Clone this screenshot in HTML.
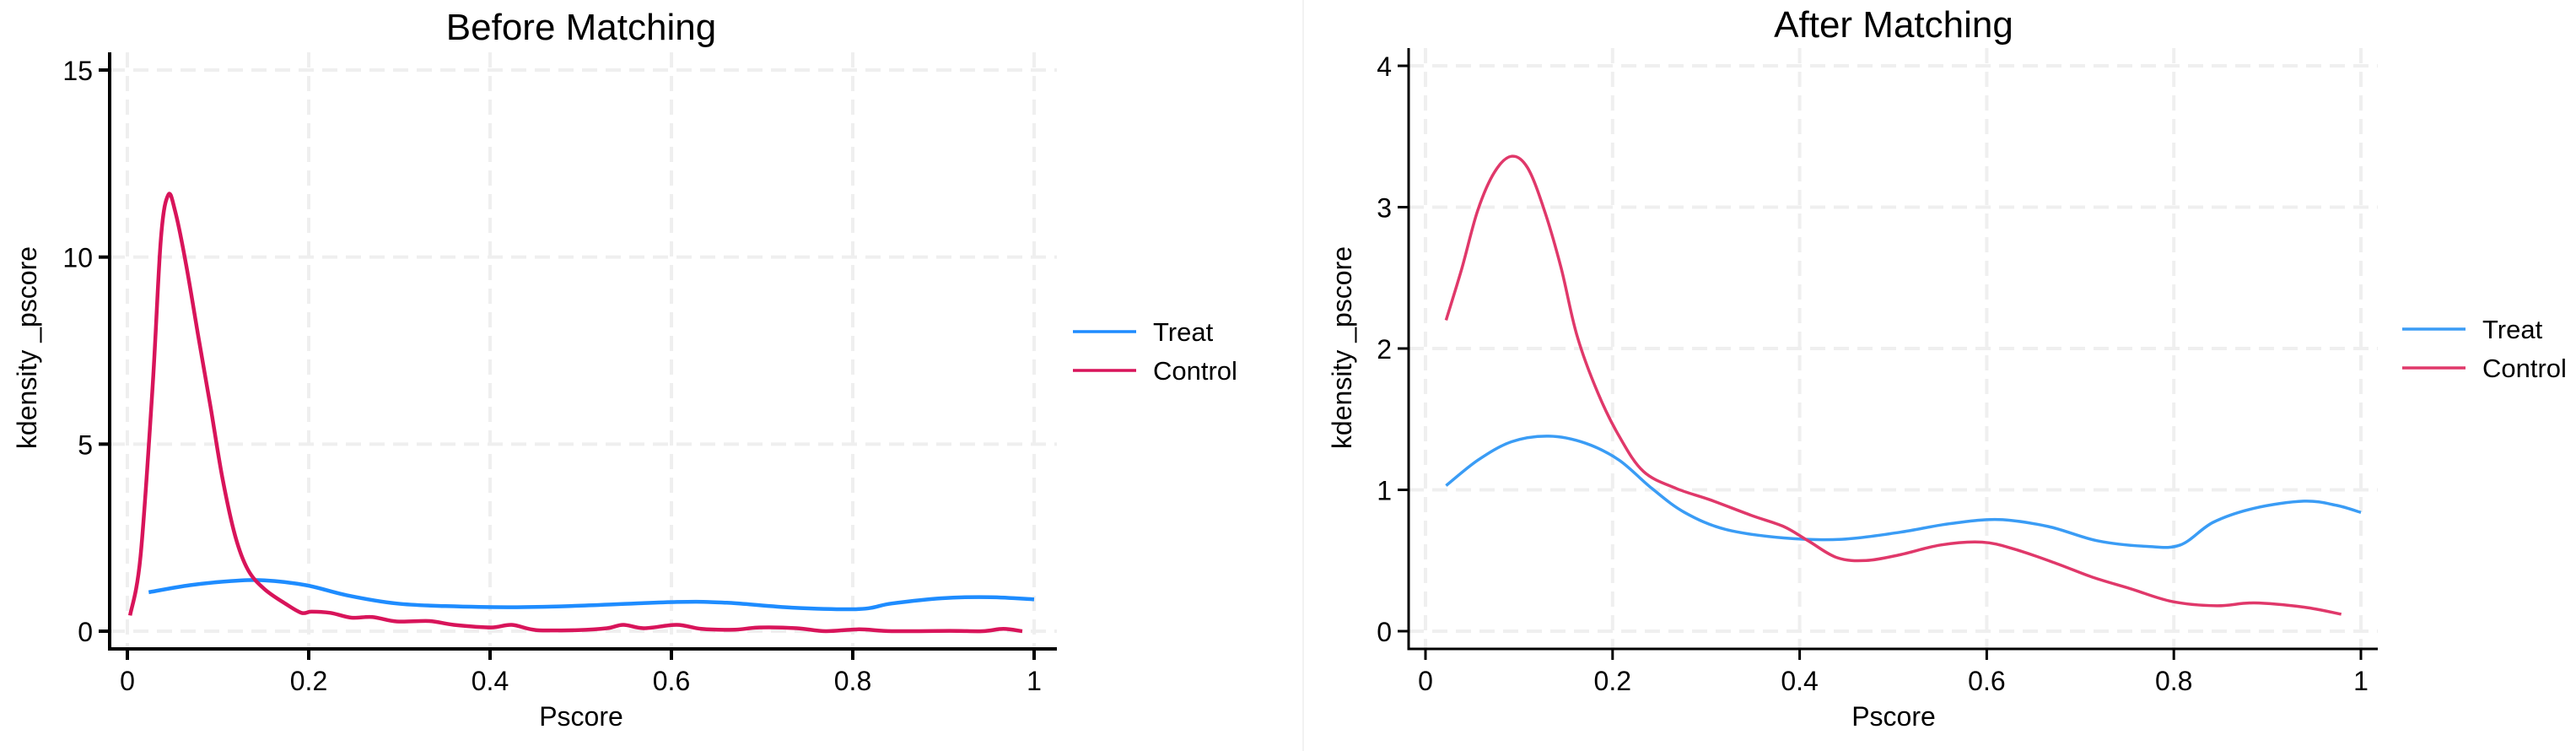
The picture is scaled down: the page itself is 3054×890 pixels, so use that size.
<!DOCTYPE html>
<html><head><meta charset="utf-8"><style>
html,body{margin:0;padding:0;background:#fff;}
svg{display:block;}
text{font-family:"Liberation Sans",Arial,sans-serif;fill:#000;}
</style></head><body>
<svg id="chart" width="3054" height="890" viewBox="0 0 3054 890" xmlns="http://www.w3.org/2000/svg">
<rect x="0" y="0" width="3054" height="890" fill="#fff"/>
<line x1="1545" y1="0" x2="1545" y2="890" stroke="#f2f2f2" stroke-width="2"/>
</svg>
<script>
// ---- data ----
const xTicks = [0, 0.2, 0.4, 0.6, 0.8, 1];
const xTickLabels = ["0", "0.2", "0.4", "0.6", "0.8", "1"];
const yTicksBefore = [0, 5, 10, 15];
const yTicksAfter = [0, 1, 2, 3, 4];
const beforeControlX = [0.003,0.0145,0.028,0.037,0.045,0.0525,0.0645,0.078,0.0917,0.105,0.119,0.133,0.151,0.174,0.192,0.203,0.224,0.247,0.27,0.297,0.333,0.36,0.401,0.424,0.451,0.497,0.529,0.547,0.57,0.606,0.633,0.67,0.697,0.738,0.77,0.807,0.843,0.907,0.943,0.966,0.987];
const beforeControlY = [0.42,2.0,6.6,10.5,11.66,11.25,9.84,7.92,6.0,4.07,2.54,1.64,1.13,0.74,0.49,0.52,0.49,0.36,0.38,0.26,0.27,0.17,0.10,0.17,0.03,0.03,0.08,0.17,0.08,0.17,0.06,0.04,0.10,0.08,0.0,0.05,0.0,0.01,0.0,0.06,0.0];
const beforeTreatX = [0.0235,0.069,0.114,0.151,0.197,0.242,0.297,0.351,0.424,0.497,0.606,0.661,0.733,0.807,0.843,0.898,0.952,1.0];
const beforeTreatY = [1.04,1.23,1.34,1.36,1.23,0.96,0.74,0.67,0.64,0.68,0.78,0.76,0.63,0.59,0.74,0.88,0.91,0.85];
const afterControlX = [0.022,0.039,0.056,0.074,0.092,0.109,0.127,0.145,0.162,0.184,0.207,0.233,0.268,0.304,0.348,0.383,0.409,0.44,0.471,0.507,0.551,0.595,0.63,0.674,0.714,0.754,0.798,0.846,0.886,0.939,0.979];
const afterControlY = [2.20,2.57,2.98,3.25,3.36,3.28,2.98,2.57,2.09,1.69,1.38,1.13,1.01,0.93,0.82,0.74,0.64,0.52,0.50,0.54,0.61,0.63,0.58,0.48,0.38,0.30,0.21,0.18,0.20,0.17,0.12];
const afterTreatX = [0.022,0.056,0.092,0.132,0.171,0.207,0.242,0.277,0.321,0.383,0.445,0.507,0.56,0.613,0.666,0.718,0.771,0.807,0.842,0.886,0.939,0.974,1.0];
const afterTreatY = [1.03,1.21,1.34,1.38,1.33,1.21,1.01,0.84,0.72,0.66,0.65,0.70,0.76,0.79,0.74,0.64,0.60,0.61,0.77,0.87,0.92,0.89,0.84];

const NS = "http://www.w3.org/2000/svg";
const svg = document.getElementById("chart");
function mk(tag, attrs, parent, txt){
  const e = document.createElementNS(NS, tag);
  for (const k in attrs) e.setAttribute(k, attrs[k]);
  if (txt !== undefined) e.textContent = txt;
  (parent || svg).appendChild(e);
  return e;
}
function smoothPath(pts){
  let d = "M" + pts[0][0].toFixed(1) + "," + pts[0][1].toFixed(1);
  for (let i = 0; i < pts.length - 1; i++){
    const p0 = pts[i-1] || pts[i], p1 = pts[i], p2 = pts[i+1], p3 = pts[i+2] || p2;
    const c1x = p1[0] + (p2[0]-p0[0])/6, c1y = p1[1] + (p2[1]-p0[1])/6;
    const c2x = p2[0] - (p3[0]-p1[0])/6, c2y = p2[1] - (p3[1]-p1[1])/6;
    d += " C" + c1x.toFixed(1)+","+c1y.toFixed(1)+" "+c2x.toFixed(1)+","+c2y.toFixed(1)+" "+p2[0].toFixed(1)+","+p2[1].toFixed(1);
  }
  return d;
}

function panel(cfg){
  const g = mk("g", {});
  
  
  const sx = v => cfg.x0 + v * (cfg.x1 - cfg.x0);
  const sy = v => cfg.y0 - v / cfg.ymax * (cfg.y0 - cfg.ytop);
  cfg.yTicks.forEach(t => {
    const l = mk("line", {x1: cfg.axisX, x2: cfg.axisRight, y1: sy(t), y2: sy(t), stroke: "#efefef", "stroke-width": 4, "stroke-dasharray": "18,10"}, g);
    
    
  });
  xTicks.forEach(t => {
    const l = mk("line", {x1: sx(t), x2: sx(t), y1: cfg.axisTop, y2: cfg.axisY, stroke: "#efefef", "stroke-width": 4, "stroke-dasharray": "18,10"}, g);
    
    
  });
  const ya = mk("line", {x1: cfg.axisX, x2: cfg.axisX, y1: cfg.axisTop, y2: cfg.axisY, stroke: "#000", "stroke-width": cfg.axW}, g);
  
  
  const xa = mk("line", {x1: cfg.axisX - cfg.axW/2, x2: cfg.axisRight, y1: cfg.axisY, y2: cfg.axisY, stroke: "#000", "stroke-width": cfg.axW}, g);
  
  
  cfg.yTicks.forEach(t => {
    const tk = mk("line", {x1: cfg.axisX - 13, x2: cfg.axisX, y1: sy(t), y2: sy(t), stroke: "#000", "stroke-width": cfg.axW}, g);
    
    
    const tl = mk("text", {x: cfg.axisX - 20, y: sy(t) + 12, "font-size": 32, "text-anchor": "end"}, g, String(t));
    
    
  });
  xTicks.forEach((t, i) => {
    const tk = mk("line", {x1: sx(t), x2: sx(t), y1: cfg.axisY, y2: cfg.axisY + 13, stroke: "#000", "stroke-width": cfg.axW}, g);
    
    
    const tl = mk("text", {x: sx(t), y: cfg.axisY + 49, "font-size": 32, "text-anchor": "middle"}, g, xTickLabels[i]);
    
    
  });
  cfg.series.forEach(s => {
    const pts = s.xs.map((v, i) => [sx(v), sy(s.ys[i])]);
    const p = mk("path", {d: smoothPath(pts), fill: "none", stroke: s.color, "stroke-width": cfg.lw, "stroke-linejoin": "round"}, g);
    
    
  });
  const tt = mk("text", {x: cfg.titleX, y: cfg.titleY, "font-size": 44, "text-anchor": "middle"}, g, cfg.title);
  
  
  const xt = mk("text", {x: cfg.titleX, y: 860, "font-size": 32, "text-anchor": "middle"}, g, "Pscore");
  
  
  const yt = mk("text", {x: 0, y: 0, "font-size": 32, "text-anchor": "middle", transform: "translate(" + cfg.yTitleX + ",412) rotate(-90)"}, g, "kdensity _pscore");
  
  
  cfg.series.forEach((s, i) => {
    const y = cfg.legY[i];
    const ll = mk("line", {x1: cfg.legX, x2: cfg.legX + 75, y1: y, y2: y, stroke: s.color, "stroke-width": cfg.legW}, g);
    
    
    const lt = mk("text", {x: cfg.legX + 95, y: y + 11, "font-size": 31}, g, s.label);
    
    
  });
}

panel({name: "before-matching-panel", title: "Before Matching", x0: 151, x1: 1226, y0: 748, ytop: 83, ymax: 15,
  axisX: 130, axisTop: 62, axisY: 769, axisRight: 1253, axW: 4, lw: 4.5, legW: 3.5, yTicks: yTicksBefore,
  titleX: 689, titleY: 47, yTitleX: 43, legX: 1272, legY: [393, 439],
  series: [
    {name: "treat-density-line", label: "Treat", color: "#1e8cff", xs: beforeTreatX, ys: beforeTreatY},
    {name: "control-density-line", label: "Control", color: "#d8145a", xs: beforeControlX, ys: beforeControlY}
  ]});
panel({name: "after-matching-panel", title: "After Matching", x0: 1690, x1: 2799, y0: 748, ytop: 78, ymax: 4,
  axisX: 1670, axisTop: 57, axisY: 769, axisRight: 2819, axW: 3, lw: 3.5, legW: 3.5, yTicks: yTicksAfter,
  titleX: 2245, titleY: 44, yTitleX: 1602, legX: 2848, legY: [390, 436],
  series: [
    {name: "treat-density-line", label: "Treat", color: "#3a9cf5", xs: afterTreatX, ys: afterTreatY},
    {name: "control-density-line", label: "Control", color: "#e0386a", xs: afterControlX, ys: afterControlY}
  ]});
</script>
</body></html>
